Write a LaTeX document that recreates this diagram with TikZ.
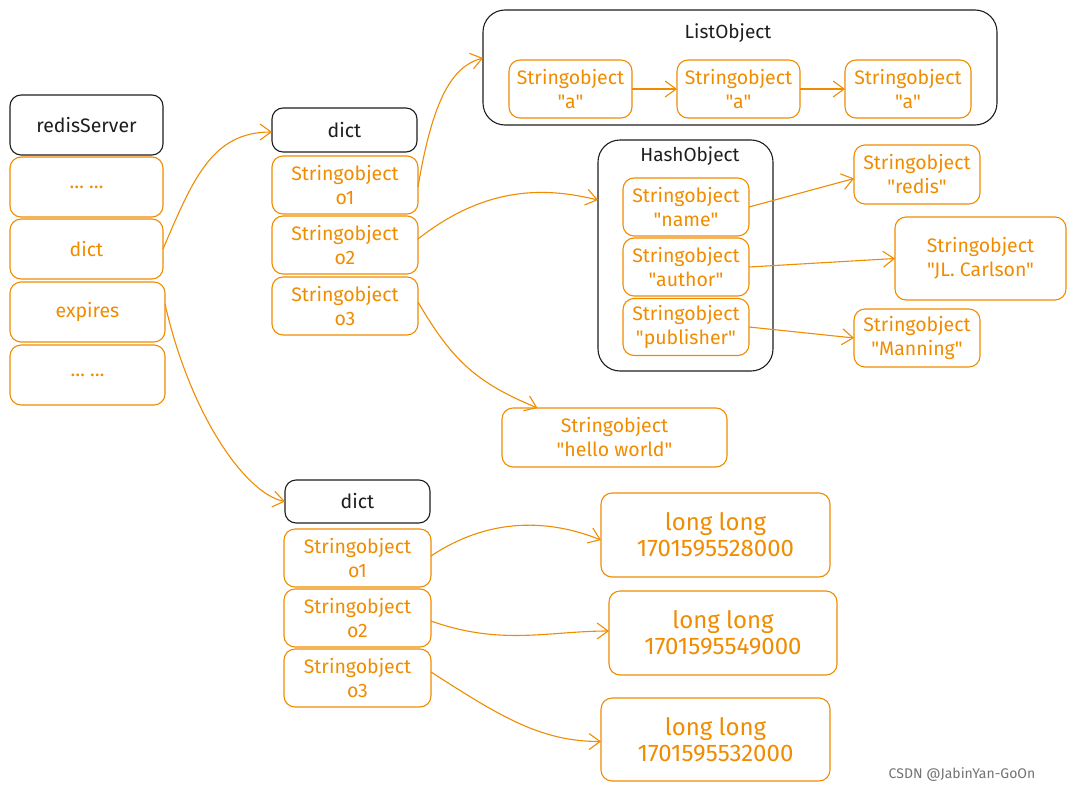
\documentclass[tikz,border=0pt]{standalone}
\usepackage{fontspec}
\setmainfont{Fira Sans}[Ligatures=TeXOff]
\usetikzlibrary{arrows.meta}
\definecolor{org}{HTML}{F08C00}
\definecolor{ink}{HTML}{1E1E1E}
\tikzset{
  base/.style={rounded corners=11pt, line width=1.1pt, align=center, inner sep=0pt, outer sep=0pt, font=\fontsize{19.5}{24}\selectfont},
  obox/.style={base, draw=org, text=org},
  kbox/.style={base, draw=ink, text=ink},
  cont/.style={rounded corners=22pt, line width=1.1pt, draw=ink},
  ttl/.style={text=ink, font=\fontsize{19}{22}\selectfont},
  big/.style={font=\fontsize{24}{26}\selectfont},
  conn/.style={draw=org, line width=1.1pt, -{Straight Barb[length=11pt,width=16pt,line width=1.1pt]}},
}
\begin{document}
\begin{tikzpicture}[x=1pt,y=-1pt]
\useasboundingbox[fill=white] (0,0) rectangle (1075,792);
% left column
\node[kbox, minimum width=153, minimum height=60] (rs) at (86.5,125) {redisServer};
\node[obox, minimum width=153, minimum height=60] (d1) at (86.5,187) {… …};
\node[obox, minimum width=153, minimum height=60] (ld) at (86.5,249) {dict};
\node[obox, minimum width=155, minimum height=60] (ex) at (87.5,312) {expires};
\node[obox, minimum width=155, minimum height=60] (d2) at (87.5,375) {… …};
% top dict
\node[kbox, minimum width=145, minimum height=44] (td) at (344.5,130) {dict};
\node[obox, minimum width=146, minimum height=58] (to1) at (345,185) {Stringobject\\o1};
\node[obox, minimum width=146, minimum height=58] (to2) at (345,245) {Stringobject\\o2};
\node[obox, minimum width=146, minimum height=58] (to3) at (345,306) {Stringobject\\o3};
% ListObject
\draw[cont] (483,10) rectangle (997,125);
\node[ttl] (lt) at (728,33) {ListObject};
\node[obox, minimum width=123, minimum height=58] (la) at (570.5,89) {Stringobject\\"a"};
\node[obox, minimum width=123, minimum height=58] (lb) at (738.5,89) {Stringobject\\"a"};
\node[obox, minimum width=126, minimum height=58] (lc) at (908,89) {Stringobject\\"a"};
\coordinate (lin) at (483,58);
% HashObject
\draw[cont] (598,140) rectangle (773,371);
\node[ttl] (ht) at (690,156) {HashObject};
\node[obox, minimum width=126, minimum height=58] (hn) at (686,207) {Stringobject\\"name"};
\node[obox, minimum width=126, minimum height=58] (ha) at (686,267) {Stringobject\\"author"};
\node[obox, minimum width=126, minimum height=57] (hp) at (686,327) {Stringobject\\"publisher"};
\coordinate (hin) at (598,200);
% values
\node[obox, minimum width=126, minimum height=59] (vr) at (917,174.5) {Stringobject\\"redis"};
\node[obox, minimum width=171, minimum height=83] (vc) at (980.5,258.5) {Stringobject\\"JL. Carlson"};
\node[obox, minimum width=126, minimum height=58] (vm) at (917,338) {Stringobject\\"Manning"};
\node[obox, minimum width=225, minimum height=59] (hw) at (614.5,437.5) {Stringobject\\"hello world"};
% bottom dict
\node[kbox, minimum width=145, minimum height=43] (bd) at (357.5,501.5) {dict};
\node[obox, minimum width=147, minimum height=58] (bo1) at (357.5,558) {Stringobject\\o1};
\node[obox, minimum width=147, minimum height=58] (bo2) at (357.5,618) {Stringobject\\o2};
\node[obox, minimum width=147, minimum height=58] (bo3) at (357.5,678) {Stringobject\\o3};
% long long
\node[obox, big, minimum width=229, minimum height=84] (l1) at (715.5,535) {long long\\1701595528000};
\node[obox, big, minimum width=228, minimum height=84] (l2) at (723,633) {long long\\1701595549000};
\node[obox, big, minimum width=229, minimum height=83] (l3) at (715.5,739.5) {long long\\1701595532000};
% connectors
\draw[conn] (ld.east) .. controls +(30,-70) and +(-60,0) .. ([yshift=-2pt]td.west);
\draw[conn] ([yshift=8pt]ex.east) .. controls +(25,110) and +(-40,-8) .. (bd.west);
\draw[conn] ([yshift=-2pt]to1.east) .. controls +(15,-90) and +(-30,8) .. (lin);
\draw[conn] ([yshift=6pt]to2.east) .. controls +(70,-55) and +(-50,-12) .. (hin);
\draw[conn] ([yshift=4pt]to3.east) .. controls +(35,60) and +(-60,-25) .. ([xshift=-77pt]hw.north);
\draw[conn] (la.east) -- (lb.west);
\draw[conn] (lb.east) -- (lc.west);
\draw[conn] (hn.east) -- ([yshift=-4pt]vr.west);
\draw[conn] (ha.east) -- (vc.west);
\draw[conn] (hp.east) -- (vm.west);
\draw[conn] ([yshift=2pt]bo1.east) .. controls +(60,-40) and +(-50,-20) .. ([yshift=-5pt]l1.west);
\draw[conn] ([yshift=-3pt]bo2.east) .. controls +(70,25) and +(-60,0) .. ([yshift=2pt]l2.west);
\draw[conn] ([yshift=6pt]bo3.east) .. controls +(70,45) and +(-60,0) .. ([yshift=-2pt]l3.west);
% watermark
\node[text=black!55, font=\fontsize{14}{16}\selectfont] (wm) at (962,775) {CSDN @JabinYan-GoOn};
\end{tikzpicture}
\end{document}
